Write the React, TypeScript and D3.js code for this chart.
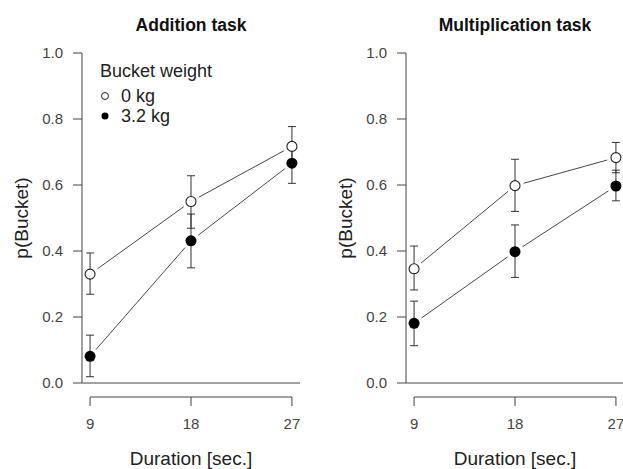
import React, { useEffect, useRef } from "react";
import * as d3 from "d3";

// durations on the x axis
const durations = [9, 18, 27];
const yTicks = [0, 0.2, 0.4, 0.6, 0.8, 1.0];
const panelTitles = ["Addition task", "Multiplication task"];
const seriesNames = ["0 kg", "3.2 kg"];

// Addition task
const addLightMean = [0.33, 0.55, 0.717];
const addLightLo = [0.269, 0.469, 0.657];
const addLightHi = [0.394, 0.628, 0.777];
const addHeavyMean = [0.081, 0.431, 0.666];
const addHeavyLo = [0.019, 0.349, 0.605];
const addHeavyHi = [0.145, 0.512, 0.727];

// Multiplication task
const mulLightMean = [0.346, 0.598, 0.683];
const mulLightLo = [0.282, 0.52, 0.637];
const mulLightHi = [0.415, 0.678, 0.729];
const mulHeavyMean = [0.181, 0.398, 0.597];
const mulHeavyLo = [0.113, 0.32, 0.552];
const mulHeavyHi = [0.248, 0.479, 0.645];

type Pt = { x: number; m: number; lo: number; hi: number };
const toPts = (m: number[], lo: number[], hi: number[]): Pt[] =>
  durations.map((x, i) => ({ x, m: m[i], lo: lo[i], hi: hi[i] }));

const panels = [
  [toPts(addLightMean, addLightLo, addLightHi), toPts(addHeavyMean, addHeavyLo, addHeavyHi)],
  [toPts(mulLightMean, mulLightLo, mulLightHi), toPts(mulHeavyMean, mulHeavyLo, mulHeavyHi)],
];

const FONT = "'Liberation Sans', Arial, sans-serif";

const App = () => {
  const svgRef = useRef<SVGSVGElement>(null);

  useEffect(() => {
    const svg = d3.select(svgRef.current);
    svg.selectAll("*").remove();

    const left = 82;
    const right = 300;
    const top = 53;
    const bottom = 383;
    const panelShift = 324;

    const x = d3.scaleLinear().domain([8.28, 27.72]).range([left, right]);
    const y = d3.scaleLinear().domain([0, 1]).range([bottom, top]);

    panels.forEach((series, p) => {
      const g = svg.append("g").attr("transform", `translate(${p * panelShift},0)`);

      // title
      g.append("text")
        .attr("x", (left + right) / 2)
        .attr("y", 30.5)
        .attr("text-anchor", "middle")
        .attr("font-family", FONT)
        .attr("font-weight", "bold")
        .attr("font-size", 17.5)
        .attr("fill", "#111")
        .text(panelTitles[p]);

      // y axis
      g.append("line")
        .attr("x1", left).attr("x2", left)
        .attr("y1", y(0)).attr("y2", y(1))
        .attr("stroke", "#444");
      yTicks.forEach((t) => {
        g.append("line")
          .attr("x1", left - 9).attr("x2", left)
          .attr("y1", y(t)).attr("y2", y(t))
          .attr("stroke", "#444");
        g.append("text")
          .attr("x", left - 19)
          .attr("y", y(t) + 5)
          .attr("text-anchor", "end")
          .attr("font-family", FONT)
          .attr("font-size", 15)
          .attr("fill", "#444")
          .text(d3.format(".1f")(t));
      });
      // h = 0 line
      g.append("line")
        .attr("x1", left).attr("x2", right)
        .attr("y1", y(0)).attr("y2", y(0))
        .attr("stroke", "#444");

      // x axis (detached)
      const xa = 397;
      g.append("line")
        .attr("x1", x(9)).attr("x2", x(27))
        .attr("y1", xa).attr("y2", xa)
        .attr("stroke", "#444");
      durations.forEach((d) => {
        g.append("line")
          .attr("x1", x(d)).attr("x2", x(d))
          .attr("y1", xa).attr("y2", xa + 9)
          .attr("stroke", "#444");
        g.append("text")
          .attr("x", x(d))
          .attr("y", 429)
          .attr("text-anchor", "middle")
          .attr("font-family", FONT)
          .attr("font-size", 15)
          .attr("fill", "#444")
          .text(d);
      });

      // axis labels
      g.append("text")
        .attr("x", (left + right) / 2)
        .attr("y", 465)
        .attr("text-anchor", "middle")
        .attr("font-family", FONT)
        .attr("font-size", 19)
        .attr("fill", "#222")
        .text("Duration [sec.]");
      g.append("text")
        .attr("transform", `translate(28,${(top + bottom) / 2}) rotate(-90)`)
        .attr("text-anchor", "middle")
        .attr("font-family", FONT)
        .attr("font-size", 19)
        .attr("fill", "#222")
        .text("p(Bucket)");

      // error bars
      series.forEach((pts) => {
        pts.forEach((d) => {
          const cx = x(d.x);
          g.append("line")
            .attr("x1", cx).attr("x2", cx)
            .attr("y1", y(d.lo)).attr("y2", y(d.hi))
            .attr("stroke", "#333");
          [d.lo, d.hi].forEach((v) => {
            g.append("line")
              .attr("x1", cx - 4).attr("x2", cx + 4)
              .attr("y1", y(v)).attr("y2", y(v))
              .attr("stroke", "#333");
          });
        });
      });

      // connecting lines with gaps around points
      const gap = 9;
      series.forEach((pts) => {
        d3.pairs(pts).forEach(([a, b]) => {
          const x1 = x(a.x), y1 = y(a.m), x2 = x(b.x), y2 = y(b.m);
          const len = Math.hypot(x2 - x1, y2 - y1);
          const ux = (x2 - x1) / len, uy = (y2 - y1) / len;
          g.append("line")
            .attr("x1", x1 + ux * gap).attr("y1", y1 + uy * gap)
            .attr("x2", x2 - ux * gap).attr("y2", y2 - uy * gap)
            .attr("stroke", "#333")
            .attr("stroke-width", 0.9);
        });
      });

      // points
      series.forEach((pts, s) => {
        pts.forEach((d) => {
          g.append("circle")
            .attr("cx", x(d.x))
            .attr("cy", y(d.m))
            .attr("r", s === 0 ? 5 : 5.5)
            .attr("fill", s === 0 ? "#fff" : "#000")
            .attr("stroke", s === 0 ? "#222" : "none")
            .attr("stroke-width", 1.1);
        });
      });

      // legend only in first panel
      if (p === 0) {
        g.append("text")
          .attr("x", 100)
          .attr("y", 77)
          .attr("font-family", FONT)
          .attr("font-size", 18)
          .attr("fill", "#222")
          .text("Bucket weight");
        seriesNames.forEach((name, s) => {
          const ly = 96 + s * 20;
          g.append("circle")
            .attr("cx", 105)
            .attr("cy", ly)
            .attr("r", 3.5)
            .attr("fill", s === 0 ? "#fff" : "#000")
            .attr("stroke", s === 0 ? "#222" : "none");
          g.append("text")
            .attr("x", 121)
            .attr("y", ly + 6)
            .attr("font-family", FONT)
            .attr("font-size", 18)
            .attr("fill", "#222")
            .text(name);
        });
      }
    });
  }, []);

  return (
    <svg
      ref={svgRef}
      width={623}
      height={469}
      style={{ position: "absolute", left: 0, top: 0, background: "#fff" }}
    />
  );
};

export default App;
